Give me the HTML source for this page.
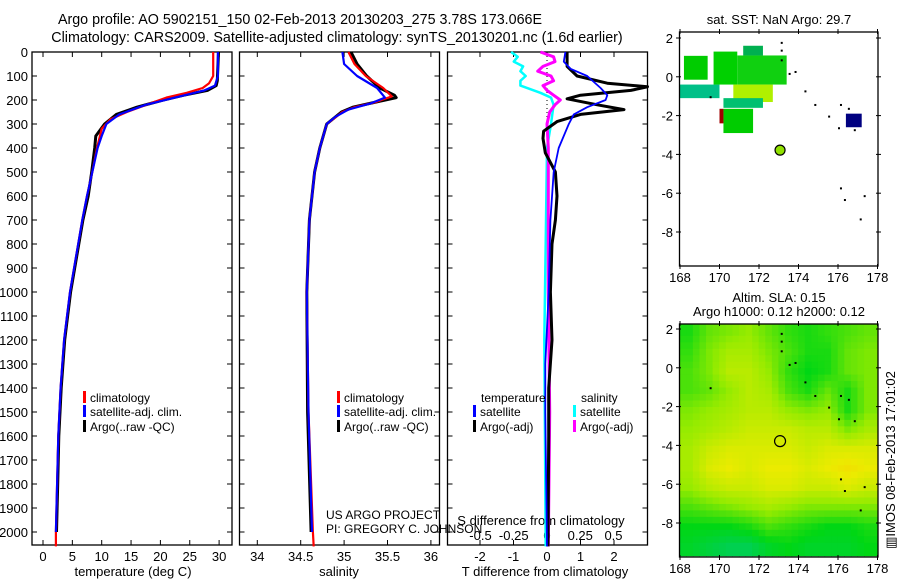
<!DOCTYPE html>
<html><head><meta charset="utf-8"><style>
body{margin:0;background:#fff}
svg{display:block}
text{font-family:"Liberation Sans",sans-serif;font-size:13px;fill:#000}
.sm{font-size:12px}
.tt{font-size:14.3px}
</style></head><body>
<svg id="fig" width="900" height="580" viewBox="0 0 900 580">
<text class="tt" x="300" y="24" text-anchor="middle">Argo profile: AO 5902151_150 02-Feb-2013 20130203_275 3.78S 173.066E</text>
<text class="tt" x="337" y="42" text-anchor="middle">Climatology: CARS2009. Satellite-adjusted climatology: synTS_20130201.nc (1.6d earlier)</text>
<g id="layer"></g>
</svg>
<script>
// ---- profile data ----
const tDepthClim=[0,50,100,130,150,170,190,220,250,280,320,400,500,600,700,800,900,1000,1200,1400,1600,1800,2000,2060];
const tClim=[29.0,29.0,29.0,28.3,27.2,24.5,21.0,17.6,14.3,11.5,10.0,9.2,8.4,7.5,6.7,6.0,5.3,4.6,3.6,3.0,2.6,2.4,2.2,2.2];
const tDepthSat=[0,50,100,140,160,190,220,260,300,350,400,500,600,700,800,900,1000,1200,1400,1600,1800,2000];
const tSat=[29.8,29.8,29.8,29.3,27.5,22.5,17.5,13.0,10.8,10.0,9.3,8.4,7.5,6.7,6.0,5.3,4.6,3.6,3.0,2.6,2.4,2.2];
const tDepthArgo=[0,60,120,140,160,180,200,230,260,300,350,400,500,600,700,800,900,1000,1200,1400,1600,1800,1900,2000];
const tArgo=[29.9,29.8,29.7,29.5,28.0,24.0,20.5,16.0,12.5,10.5,9.0,8.8,8.3,7.7,6.8,6.1,5.4,4.7,3.7,3.1,2.7,2.5,2.4,2.3];
const sDepthClim=[0,50,100,150,185,210,230,250,300,400,500,700,1000,1500,2000,2060];
const sClim=[35.05,35.12,35.25,35.45,35.55,35.35,35.12,34.98,34.80,34.72,34.66,34.60,34.57,34.59,34.64,34.65];
const sDepthSat=[0,50,100,150,190,215,240,270,300,400,500,700,1000,1500,2000];
const sSat=[34.98,35.00,35.15,35.38,35.47,35.30,35.05,34.90,34.80,34.72,34.66,34.60,34.57,34.59,34.63];
const sDepthArgo=[0,50,100,150,180,190,210,230,250,300,400,500,700,1000,1500,2000];
const sArgo=[35.08,35.15,35.26,35.41,35.58,35.60,35.35,35.10,34.97,34.80,34.72,34.66,34.60,34.57,34.58,34.62];
// ---- difference data ----
const dDepthTA=[0,60,100,130,145,160,180,195,220,240,260,290,330,360,420,500,600,700,800,1000,1200,1400,1600,2060];
const dTArgo=[0.6,0.6,0.9,1.8,3.0,2.5,1.0,0.6,1.5,2.3,1.0,0.3,-0.1,-0.12,-0.05,0.25,0.3,0.25,0.15,0.1,0.15,0.05,0.05,0.03];
const dDepthTS=[0,40,70,100,150,180,200,230,260,300,400,500,700,1000,1300,1500,2060];
const dTSat=[0.55,0.5,0.7,1.2,1.6,1.8,1.75,1.2,0.8,0.65,0.35,0.2,0.1,0.05,-0.05,-0.05,0];
const dDepthSS=[0,20,40,60,80,100,120,140,170,190,220,300,400,800,1200,2060];
const dSSat=[-0.27,-0.22,-0.25,-0.18,-0.2,-0.16,-0.2,-0.2,-0.05,0.03,0.05,0.03,0.0,-0.01,-0.02,-0.01];
const dDepthSA=[0,20,40,60,80,100,120,140,160,180,200,220,250,300,400,1000,1500,2060];
const dSArgo=[-0.05,0.05,0.06,-0.03,-0.07,0.03,0.05,-0.03,0.0,0.05,0.1,0.06,0.02,0.0,0.01,0.01,0.02,0.01];
// ---- map data ----
const slaGrid=[
[0.35,0.5,0.55,0.6,0.5,0.4,0.35,0.4,0.45,0.5],
[0.4,0.55,0.65,0.65,0.55,0.45,0.35,0.35,0.5,0.55],
[0.45,0.55,0.7,0.7,0.6,0.4,0.3,0.35,0.5,0.55],
[0.45,0.5,0.6,0.7,0.65,0.45,0.35,0.5,0.35,0.55],
[0.55,0.6,0.65,0.7,0.7,0.6,0.55,0.6,0.35,0.55],
[0.6,0.65,0.7,0.75,0.75,0.75,0.7,0.7,0.55,0.65],
[0.65,0.75,0.8,0.8,0.8,0.8,0.75,0.8,0.8,0.8],
[0.65,0.8,0.85,0.8,0.85,0.85,0.8,0.85,0.9,0.85],
[0.6,0.7,0.75,0.75,0.8,0.8,0.75,0.75,0.8,0.75],
[0.45,0.5,0.55,0.6,0.65,0.6,0.55,0.55,0.55,0.55],
[0.3,0.3,0.3,0.35,0.45,0.4,0.35,0.3,0.3,0.35],
[0.25,0.2,0.15,0.15,0.25,0.3,0.25,0.25,0.25,0.3]];
const sstLon0=[168.2,168.0,169.7,170.9,171.2,170.7,170.2,170.2,170.0,176.4];
const sstLon1=[169.4,170.0,170.9,173.4,172.2,172.7,172.2,171.7,170.2,177.2];
const sstLat0=[1.08,-0.4,1.3,1.1,1.6,-0.4,-1.1,-1.65,-1.65,-1.9];
const sstLat1=[-0.15,-1.1,-0.4,-0.4,1.1,-1.3,-1.6,-2.9,-2.4,-2.6];
const sstColor=['#00cc00','#00c088','#00d000','#10d010','#00b050','#b0f000','#00c070','#00cc00','#a00000','#000080'];
const argoLon=173.066, argoLat=-3.78;

const NS='http://www.w3.org/2000/svg';
const L=document.getElementById('layer');
function mk(tag,attrs,parent){const e=document.createElementNS(NS,tag);for(const k in attrs)e.setAttribute(k,attrs[k]);(parent||L).appendChild(e);return e;}
function txt(x,y,s,anchor,cls){const t=mk('text',{x:x,y:y,'text-anchor':anchor||'start'});if(cls)t.setAttribute('class',cls);t.textContent=s;return t;}

const yD=d=>52+0.24*d;
const xTemp=t=>43+5.87*t;
const xSal=s=>257.3+86.8*(s-34);
const xDT=v=>547+33.5*v;
const xDS=v=>547+133*v;

function poly(xs,ds,fx,color,w,name){
  const p=xs.map((v,i)=>fx(v).toFixed(1)+','+yD(ds[i]).toFixed(1)).join(' ');
  const e=mk('polyline',{points:p,fill:'none',stroke:color,'stroke-width':w,'stroke-linejoin':'round'});
  
  
}
function frame(x0,x1,name){
  const r=mk('rect',{x:x0,y:52,width:x1-x0,height:493,fill:'none',stroke:'#000','stroke-width':1.3});
  
  
  for(let d=0;d<=2000;d+=100){mk('line',{x1:x0,x2:x0+5,y1:yD(d),y2:yD(d),stroke:'#000'});mk('line',{x1:x1-5,x2:x1,y1:yD(d),y2:yD(d),stroke:'#000'});}
}
// panel 1
frame(32,232,'temperature-axes');
for(let d=0;d<=2000;d+=100){const t=txt(28,yD(d)+5,String(d),'end');}
for(let t=0;t<=30;t+=5){mk('line',{x1:xTemp(t),x2:xTemp(t),y1:52,y2:57,stroke:'#000'});mk('line',{x1:xTemp(t),x2:xTemp(t),y1:540,y2:545,stroke:'#000'});const e=txt(xTemp(t),561,String(t),'middle');}
{const e=txt(133,576,'temperature (deg C)','middle');}
poly(tArgo,tDepthArgo,xTemp,'#000',3,'temperature-argo-line');
poly(tClim,tDepthClim,xTemp,'#f00',2.2,'temperature-climatology-line');
poly(tSat,tDepthSat,xTemp,'#0000ff',2.2,'temperature-satellite-line');
// panel 2
frame(239.5,439.5,'salinity-axes');
[34,34.5,35,35.5,36].forEach(s=>{mk('line',{x1:xSal(s),x2:xSal(s),y1:52,y2:57,stroke:'#000'});mk('line',{x1:xSal(s),x2:xSal(s),y1:540,y2:545,stroke:'#000'});const e=txt(xSal(s),561,String(s),'middle');});
{const e=txt(339,576,'salinity','middle');}
poly(sArgo,sDepthArgo,xSal,'#000',3,'salinity-argo-line');
poly(sClim,sDepthClim,xSal,'#f00',2.2,'salinity-climatology-line');
poly(sSat,sDepthSat,xSal,'#0000ff',2.2,'salinity-satellite-line');
// panel 3
frame(447.5,647.5,'difference-axes');
[-2,-1,0,1,2].forEach(v=>{mk('line',{x1:xDT(v),x2:xDT(v),y1:52,y2:57,stroke:'#000'});mk('line',{x1:xDT(v),x2:xDT(v),y1:540,y2:545,stroke:'#000'});const e=txt(xDT(v),561,String(v),'middle');});
[-0.5,-0.25,0,0.25,0.5].forEach(v=>{const e=txt(xDS(v),540,String(v),'middle');});
{const e=txt(541,525,'S difference from climatology','middle');}
{const e=txt(545,576,'T difference from climatology','middle');}
mk('line',{x1:547,x2:547,y1:52,y2:yD(320),stroke:'#000','stroke-dasharray':'1,3'});
poly(dSSat,dDepthSS,xDS,'#00ffff',2.5,'s-difference-satellite-line');
poly(dSArgo,dDepthSA,xDS,'#ff00ff',3,'s-difference-argo-line');
poly(dTArgo,dDepthTA,xDT,'#000',3,'t-difference-argo-line');
poly(dTSat,dDepthTS,xDT,'#0000ff',1.8,'t-difference-satellite-line');
// legends
function legend(x,y,color,label,name){mk('rect',{x:x,y:y-11,width:3,height:12,fill:color});const e=txt(x+7,y,label,'start','sm');}
legend(83,402,'#f00','climatology','legend-climatology');
legend(83,416,'#00f','satellite-adj. clim.','legend-satellite');
legend(83,431,'#000','Argo(..raw -QC)','legend-argo');
legend(337,402,'#f00','climatology','legend2-climatology');
legend(337,416,'#00f','satellite-adj. clim.','legend2-satellite');
legend(337,431,'#000','Argo(..raw -QC)','legend2-argo');
{const e=txt(481,402,'temperature','start','sm');}
{const e=txt(581,402,'salinity','start','sm');}
legend(473,416,'#00f','satellite','legend-t-satellite');
legend(473,431,'#000','Argo(-adj)','legend-t-argo');
legend(573,416,'#00ffff','satellite','legend-s-satellite');
legend(573,431,'#ff00ff','Argo(-adj)','legend-s-argo');
{const e=txt(326,519,'US ARGO PROJECT','start','sm');}
{const e=txt(326,533,'PI: GREGORY C. JOHNSON','start','sm');}

// maps
const mx=lon=>680+19.75*(lon-168);
function mapAxes(top,bottom,lat2y,name){
  const my=lat=>lat2y-19.4*(lat-2);
  const r=mk('rect',{x:679.5,y:top,width:198.5,height:bottom-top,fill:'none',stroke:'#000','stroke-width':1.3});
  
  
  for(let la=2;la>=-8;la-=2){mk('line',{x1:676,x2:681,y1:my(la),y2:my(la),stroke:'#000'});mk('line',{x1:876,x2:881,y1:my(la),y2:my(la),stroke:'#000'});const e=txt(673,my(la)+5,String(la),'end');}
  for(let lo=168;lo<=178;lo+=2){mk('line',{x1:mx(lo),x2:mx(lo),y1:top-3,y2:top+2,stroke:'#000'});mk('line',{x1:mx(lo),x2:mx(lo),y1:bottom-2,y2:bottom+3,stroke:'#000'});const e=txt(mx(lo),bottom+16,String(lo),'middle');}
  return my;
}
function slaColor(v){
  const stops=[[0,[0,200,140]],[0.3,[0,215,20]],[0.6,[150,235,0]],[0.85,[235,235,0]],[1,[250,205,0]]];
  for(let i=1;i<stops.length;i++){if(v<=stops[i][0]){const a=stops[i-1],b=stops[i],f=(v-a[0])/(b[0]-a[0]);return 'rgb('+a[1].map((c,k)=>Math.round(c+(b[1][k]-c)*f)).join(',')+')';}}
  return 'rgb(250,205,0)';
}
// map 2 (SLA) — bilinear smoothing of grid cells
const my2=lat=>329-19.4*(lat-2);
const NR=slaGrid.length, NC=slaGrid[0].length, SUB=3;
function sampleSla(r,c){
  r=Math.max(0,Math.min(NR-1,r)); c=Math.max(0,Math.min(NC-1,c));
  const r0=Math.floor(r),c0=Math.floor(c),r1=Math.min(NR-1,r0+1),c1=Math.min(NC-1,c0+1),fr=r-r0,fc=c-c0;
  return slaGrid[r0][c0]*(1-fr)*(1-fc)+slaGrid[r0][c1]*(1-fr)*fc+slaGrid[r1][c0]*fr*(1-fc)+slaGrid[r1][c1]*fr*fc;
}
const slaClip=mk('clipPath',{id:'slaclip'});
mk('rect',{x:679.5,y:324,width:198.5,height:233},slaClip);
const slaG=mk('g',{'clip-path':'url(#slaclip)'});
for(let i=0;i<NR*SUB;i++){for(let j=0;j<NC*SUB;j++){
  const v=sampleSla((i+0.5)/SUB-0.5,(j+0.5)/SUB-0.5);
  const latTop=2.3-i/SUB;
  const lonL=168+j/SUB;
  const c=mk('rect',{x:mx(lonL)-0.3,y:my2(latTop)-0.3,width:19.75/SUB+0.6,height:19.4/SUB+0.6,fill:slaColor(v)},slaG);
  
  
}}
mapAxes(324,557,329,'sla-map-axes');
{const c=mk('circle',{cx:mx(argoLon),cy:my2(argoLat),r:5.5,fill:'none',stroke:'#000','stroke-width':1.2});}
// map 1 (SST)
const my1=lat=>38-19.4*(lat-2);
sstLon0.forEach((lo,i)=>{
  const c=mk('rect',{x:mx(lo),y:my1(sstLat0[i]),width:mx(sstLon1[i])-mx(lo),height:my1(sstLat1[i])-my1(sstLat0[i]),fill:sstColor[i]});
  
  
});
mapAxes(32,266,38,'sst-map-axes');
{const c=mk('circle',{cx:mx(argoLon),cy:my1(argoLat),r:5,fill:'#90e000',stroke:'#000','stroke-width':1.2});}
// coast dots
[[173.1,1.8],[173.1,1.4],[173.1,0.9],[173.5,0.2],[173.8,0.3],[174.3,-0.7],[174.8,-1.4],[175.5,-2.0],[176.1,-1.4],[176.5,-1.6],[176.0,-2.6],[176.8,-2.7],[176.1,-5.7],[176.3,-6.3],[177.3,-6.1],[177.1,-7.3],[169.5,-1.0]].forEach(p=>{
  mk('rect',{x:mx(p[0]),y:my1(p[1]),width:2,height:2,fill:'#000'});
  mk('rect',{x:mx(p[0]),y:my2(p[1]),width:2,height:2,fill:'#000'});
});
{const e=txt(779,24,'sat. SST: NaN Argo: 29.7','middle');}
{const e=txt(779,302,'Altim. SLA: 0.15','middle');}
{const e=txt(779,316,'Argo h1000: 0.12 h2000: 0.12','middle');}
{const e=txt(0,0,'\u25A5IMOS 08-Feb-2013 17:01:02','middle');e.setAttribute('transform','translate(895,460) rotate(-90)');}
</script>
</body></html>
